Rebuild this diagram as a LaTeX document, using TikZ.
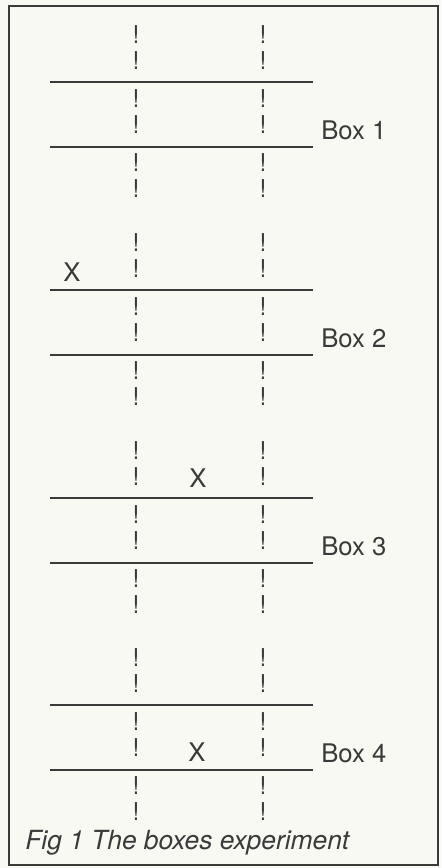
\documentclass[tikz,border=0pt]{standalone}
\usepackage{fontspec}
\setmainfont{TeX Gyre Heros}
\usepackage{tikz}
\definecolor{ink}{RGB}{58,58,58}
\definecolor{paper}{RGB}{248,249,243}

\begin{document}
\begin{tikzpicture}[x=0.02cm, y=-0.02cm, every node/.style={font=\fontsize{14.6}{17}\selectfont, text=ink, inner sep=0pt}, wall/.style={draw=ink, line width=0.85pt}, bang/.style={font=\fontsize{14}{16}\selectfont}, lbl/.style={anchor=center}]
	\fill[paper] (0,0) rectangle (441,868);
	\draw[ink, line width=1.2pt] (9,6) rectangle (438,865);
	\foreach \b/\L in {1/82,2/290,3/498,4/705} {
		\draw[wall] (50,\L) -- (313,\L);
		\draw[wall] (50,\L+65) -- (313,\L+65);
		\foreach \c/\x in {l/136,r/263} {
			\foreach \i/\d in {1/-47,2/-21,3/17,4/43,5/81,6/107}
				\node[bang] (\c\b-\i) at (\x,\L+\d) {!};
		}
		\node[lbl, anchor=west] (box\b) at (321,\L+48) {Box \b};
	}
	\node[lbl] (x2) at (72,272) {X};
	\node[lbl] (x3) at (198,478) {X};
	\node[lbl] (x4) at (197,752) {X};
	\node[lbl, anchor=west, font=\fontsize{15}{18}\selectfont\itshape] (cap) at (25,843) {Fig 1 The boxes experiment};
\end{tikzpicture}
\end{document}
